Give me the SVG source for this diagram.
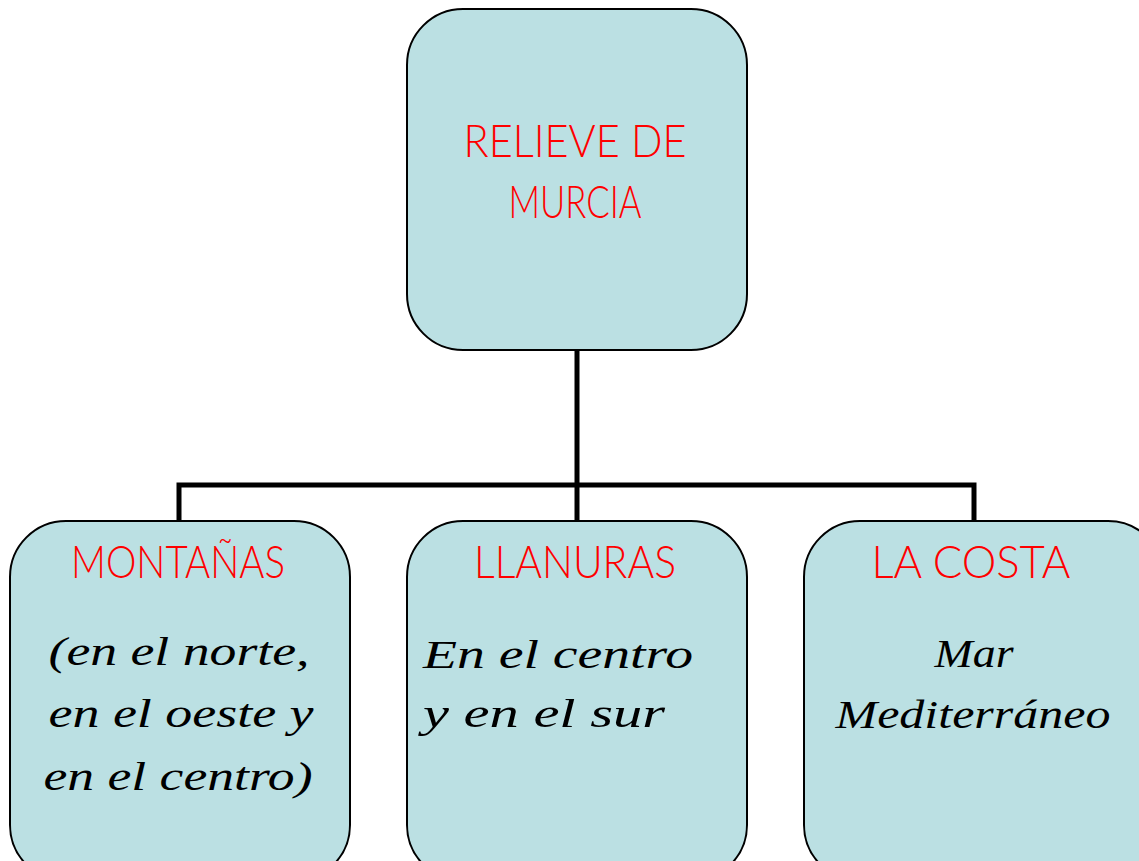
<svg xmlns="http://www.w3.org/2000/svg" width="1139" height="861" viewBox="0 0 1139 861">
<style>
.box{fill:#bbe0e3;stroke:#000;stroke-width:2}
.title{font-family:Lato,"Open Sans",sans-serif;font-weight:300;font-size:45px;fill:#ff0000;text-anchor:middle}
.hand{font-family:"Liberation Serif",serif;font-style:italic;font-size:40px;fill:#000}
.conn{fill:none;stroke:#000;stroke-width:5}
</style>
<rect width="1139" height="861" fill="#fff"/>
<g id="connectors">
<path class="conn" d="M577 350 V485"/>
<path class="conn" d="M179 521 V485 H974 V521"/>
<path class="conn" d="M577 485 V521"/>
</g>
<g id="root">
<rect class="box" x="407" y="9" width="340" height="341" rx="56"/>
<text class="title" x="575" y="157" textLength="223" lengthAdjust="spacingAndGlyphs">RELIEVE DE</text>
<text class="title" x="575" y="218" textLength="133" lengthAdjust="spacingAndGlyphs">MURCIA</text>
</g>
<g id="montanas">
<rect class="box" x="10" y="521" width="340" height="360" rx="56"/>
<text class="title" x="178" y="578" textLength="214" lengthAdjust="spacingAndGlyphs">MONTAÑAS</text>
<text class="hand" x="179" y="665" text-anchor="middle" textLength="261" lengthAdjust="spacingAndGlyphs">(en el norte,</text>
<text class="hand" x="181" y="727" text-anchor="middle" textLength="265" lengthAdjust="spacingAndGlyphs">en el oeste y</text>
<text class="hand" x="178" y="790" text-anchor="middle" textLength="269" lengthAdjust="spacingAndGlyphs">en el centro)</text>
</g>
<g id="llanuras">
<rect class="box" x="407" y="521" width="340" height="360" rx="56"/>
<text class="title" x="575" y="578" textLength="202" lengthAdjust="spacingAndGlyphs">LLANURAS</text>
<text class="hand" x="423" y="668" textLength="270" lengthAdjust="spacingAndGlyphs">En el centro</text>
<text class="hand" x="423" y="727" textLength="242" lengthAdjust="spacingAndGlyphs">y en el sur</text>
</g>
<g id="costa">
<rect class="box" x="804" y="521" width="360" height="360" rx="56"/>
<text class="title" x="971" y="578" textLength="199" lengthAdjust="spacingAndGlyphs">LA COSTA</text>
<text class="hand" x="974" y="667" text-anchor="middle" textLength="79" lengthAdjust="spacingAndGlyphs">Mar</text>
<text class="hand" x="973" y="728" text-anchor="middle" textLength="275" lengthAdjust="spacingAndGlyphs">Mediterráneo</text>
</g>
</svg>
